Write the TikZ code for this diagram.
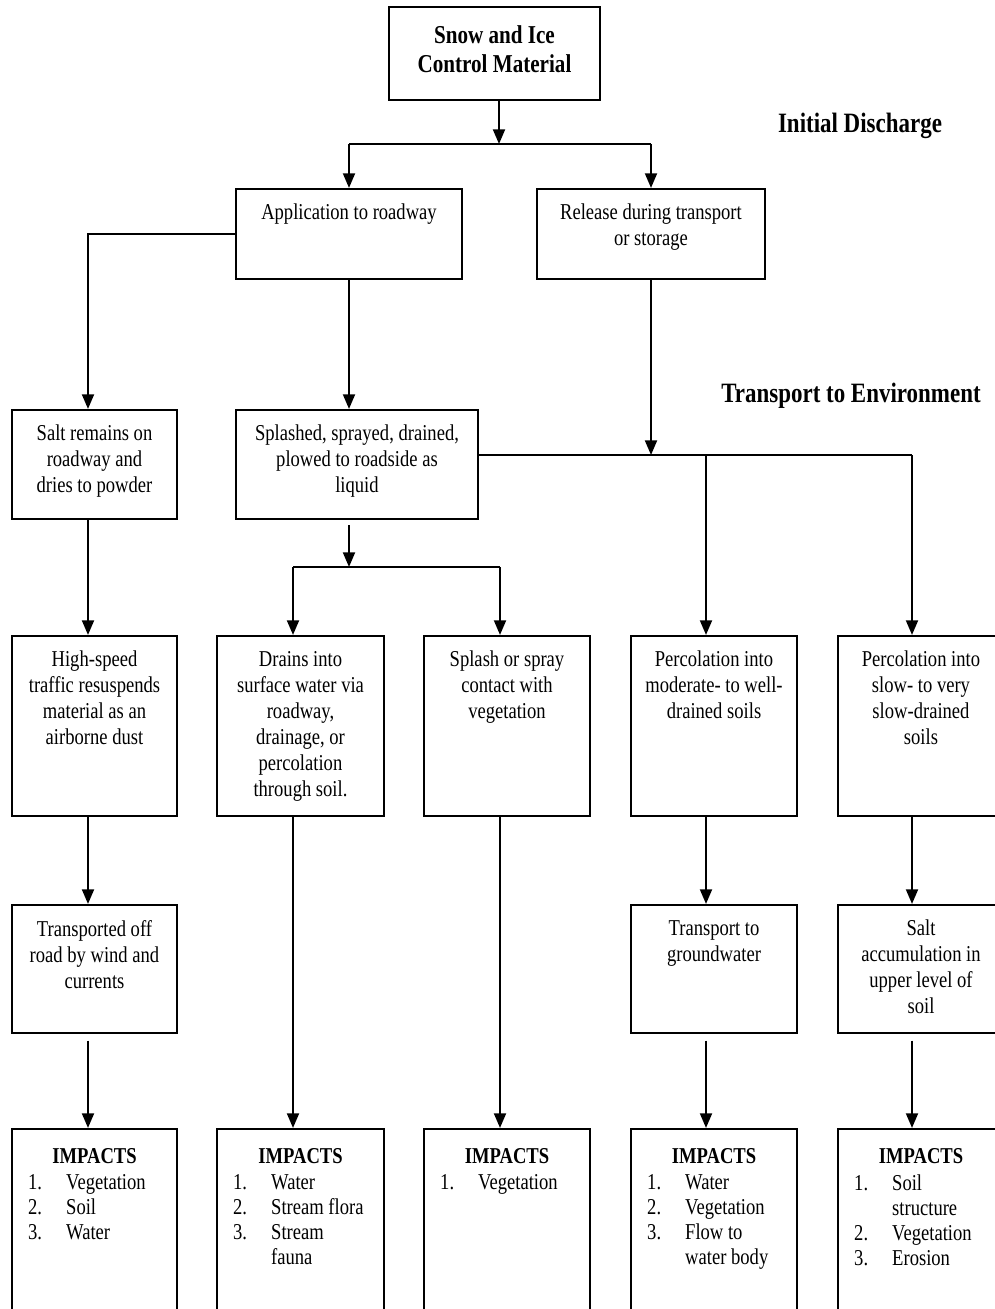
\documentclass[tikz,border=0pt]{standalone}
\usepackage{fontspec}
\setmainfont[FakeStretch=0.82]{Liberation Serif}
\usetikzlibrary{arrows.meta,calc}
\tikzset{
  box/.style={draw, line width=1.6pt, inner sep=0pt},
  txt/.style={align=center, inner sep=0pt, anchor=north, font=\fontsize{17}{19.5}\selectfont},
  lst/.style={align=left, inner sep=0pt, anchor=north west, font=\fontsize{17}{18.75}\selectfont},
  head/.style={font=\bfseries\fontsize{21}{24}\selectfont, inner sep=0pt},
  arr/.style={line width=1.5pt, -{Triangle[length=11pt,width=9pt]}},
  ln/.style={line width=1.5pt},
}
% name, x1, y1, x2, y2, text, text centre x
\newcommand\mkbox[7]{%
  \node[box, minimum width={(#4-#2)*0.75pt}, minimum height={(#5-#3)*0.75pt}] (#1) at ({(#2+#4)/2},{(#3+#5)/2}) {};
  \node[txt] (#1t) at ([yshift=-12pt]#1.north -| #7,0) {#6};}
\newcommand\mkimp[5]{%
  \node[box, minimum width={(#3-#2)*0.75pt}, minimum height={(1360-1129)*0.75pt}] (#1) at ({(#2+#3)/2},{(1129+1360)/2}) {};
  \node[txt, font=\bfseries\fontsize{17}{19.5}\selectfont] (#1h) at ([yshift=-15.5pt]#1.north -| #5,0) {IMPACTS};
  \node[lst] (#1l) at ([xshift=12.75pt,yshift=-35pt]#1.north west) {#4};}
\newcommand\nm[1]{\makebox[28.5pt][l]{#1}}
\newcommand\ind{\hspace*{28.5pt}}
\begin{document}
\begin{tikzpicture}[x=0.75pt,y=-0.75pt]
\useasboundingbox (0,0) rectangle (995,1309);
\clip (0,0) rectangle (995,1309);
% top box
\node[box, minimum width={(600-389)*0.75pt}, minimum height={(100-7)*0.75pt}] (top) at ({(389+600)/2},{(7+100)/2}) {};
\node[align=center, inner sep=0pt, font=\bfseries\fontsize{19.3}{21.75}\selectfont] (topt) at ([yshift=3pt]top.center) {Snow and Ice\\Control Material};
% labels
\node[head] (lbl1) at (860,126) {Initial Discharge};
\node[head] (lbl2) at (851,396) {Transport to Environment};
% boxes
\mkbox{app}{236}{189}{462}{279}{Application to roadway}{349}
\mkbox{rel}{537}{189}{765}{279}{Release during transport\\or storage}{651}
\mkbox{salt}{12}{410}{177}{519}{Salt remains on\\roadway and\\dries to powder}{94.5}
\mkbox{spl}{236}{410}{478}{519}{Splashed, sprayed, drained,\\plowed to roadside as\\liquid}{357}
\mkbox{hs}{12}{636}{177}{816}{High-speed\\traffic resuspends\\material as an\\airborne dust}{94.5}
\mkbox{dr}{217}{636}{384}{816}{Drains into\\surface water via\\roadway,\\drainage, or\\percolation\\through soil.}{300.5}
\mkbox{sp}{424}{636}{590}{816}{Splash or spray\\contact with\\vegetation}{507}
\mkbox{pm}{631}{636}{797}{816}{Percolation into\\moderate- to well-\\drained soils}{714}
\mkbox{ps}{838}{636}{1012}{816}{Percolation into\\slow- to very\\slow-drained\\soils}{921}
\mkbox{to}{12}{905}{177}{1033}{Transported off\\road by wind and\\currents}{94.5}
\mkbox{tg}{631}{905}{797}{1033}{Transport to\\groundwater}{714}
\mkbox{sa}{838}{905}{1012}{1033}{Salt\\accumulation in\\upper level of\\soil}{921}
% impacts
\mkimp{i1}{12}{177}{\nm{1.}Vegetation\\\nm{2.}Soil\\\nm{3.}Water}{94.5}
\mkimp{i2}{217}{384}{\nm{1.}Water\\\nm{2.}Stream flora\\\nm{3.}Stream\\\ind fauna}{300.5}
\mkimp{i3}{424}{590}{\nm{1.}Vegetation}{507}
\mkimp{i4}{631}{797}{\nm{1.}Water\\\nm{2.}Vegetation\\\nm{3.}Flow to\\\ind water body}{714}
\mkimp{i5}{838}{1012}{\nm{1.}Soil\\\ind structure\\\nm{2.}Vegetation\\\nm{3.}Erosion}{921}
% coordinates
\coordinate (j1) at (499,144);
\coordinate (j2) at (651,455);
\coordinate (j3) at (349,567);
\coordinate (c1) at (88,0);
\coordinate (c2) at (293,0);
\coordinate (c3) at (500,0);
\coordinate (c4) at (706,0);
\coordinate (c5) at (912,0);
% connectors
\draw[arr] (top.south -| j1) -- (j1);
\draw[ln] (app.north |- j1) -- (rel.north |- j1);
\draw[arr] (app.north |- j1) -- (app.north);
\draw[arr] (rel.north |- j1) -- (rel.north);
\draw[arr] (app.west) -| (salt.north -| c1);
\draw[arr] (app.south) -- (spl.north -| app.south);
\draw[arr] (rel.south) -- (j2);
\draw[ln] (spl.east |- j2) -- (c5 |- j2);
\draw[arr] (c4 |- j2) -- (pm.north -| c4);
\draw[arr] (c5 |- j2) -- (ps.north -| c5);
\draw[arr, shorten <=4pt] (spl.south -| j3) -- (j3);
\draw[ln] (c2 |- j3) -- (c3 |- j3);
\draw[arr] (c2 |- j3) -- (dr.north -| c2);
\draw[arr] (c3 |- j3) -- (sp.north -| c3);
\draw[arr] (salt.south -| c1) -- (hs.north -| c1);
\draw[arr] (hs.south -| c1) -- (to.north -| c1);
\draw[arr, shorten <=5pt] (to.south -| c1) -- (i1.north -| c1);
\draw[arr] (dr.south -| c2) -- (i2.north -| c2);
\draw[arr] (sp.south -| c3) -- (i3.north -| c3);
\draw[arr] (pm.south -| c4) -- (tg.north -| c4);
\draw[arr, shorten <=5pt] (tg.south -| c4) -- (i4.north -| c4);
\draw[arr] (ps.south -| c5) -- (sa.north -| c5);
\draw[arr, shorten <=5pt] (sa.south -| c5) -- (i5.north -| c5);
\end{tikzpicture}
\end{document}
